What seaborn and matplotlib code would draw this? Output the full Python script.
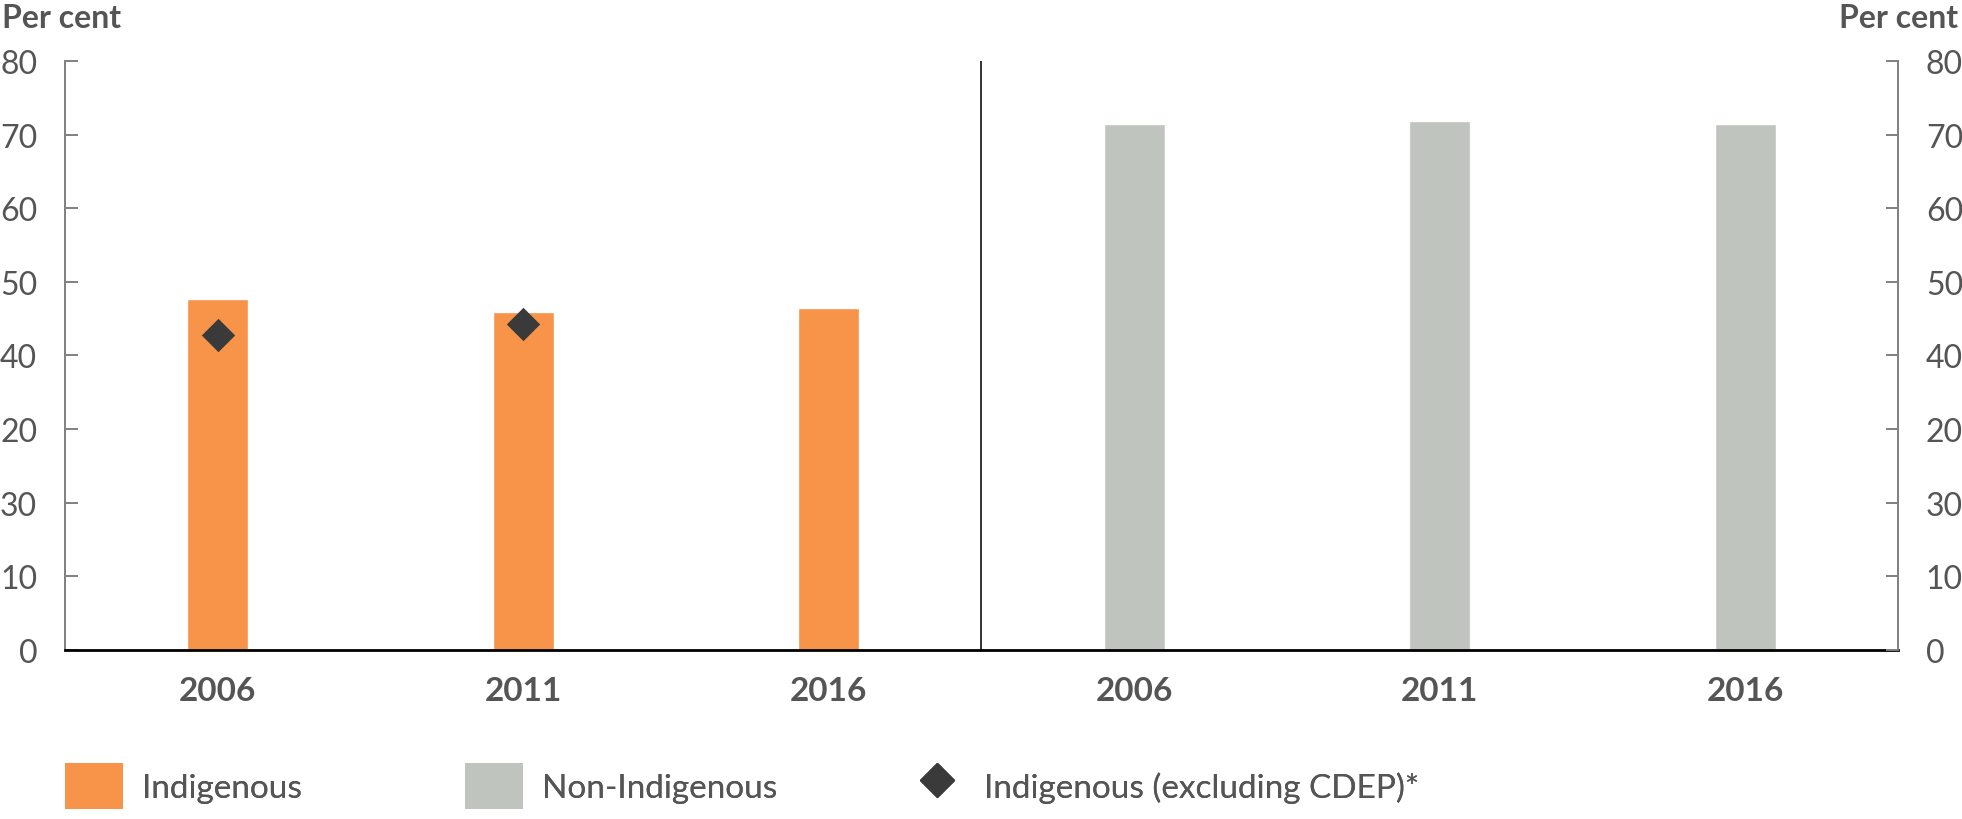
import pandas as pd
import matplotlib
matplotlib.use("Agg")
import matplotlib.pyplot as plt
import seaborn as sns
from matplotlib.patches import Patch
from matplotlib.lines import Line2D

# data
groups = ["Indigenous", "Non-Indigenous"]
years = ["2006", "2011", "2016"]
indigenous = [47.7, 45.9, 46.4]
non_indigenous = [71.4, 71.9, 71.4]
excl_cdep = [42.8, 44.3, None]
ytick_vals = [0, 10, 20, 30, 40, 50, 60, 70, 80]
ytick_text = ["0", "10", "30", "20", "40", "50", "60", "70", "80"]

orange = "#F7944A"
grey = "#BFC5BE"
dark = "#3A3A3A"
text_col = "#555555"

sns.set_style("white")
plt.rcParams["font.family"] = ["Lato", "DejaVu Sans"]
plt.rcParams["font.size"] = 23

keys = [f"{g} {y}" for g in groups for y in years]
df = pd.DataFrame({
    "key": keys,
    "group": [g for g in groups for _ in years],
    "value": indigenous + non_indigenous,
})
pts = pd.DataFrame({"key": keys[:3], "value": excl_cdep}).dropna()

fig = plt.figure(figsize=(19.62, 8.2), dpi=100)
ax = fig.add_axes([0.0331, 0.2061, 0.9343, 0.7183])

sns.barplot(data=df, x="key", y="value", hue="group", order=keys,
            palette={"Indigenous": orange, "Non-Indigenous": grey},
            dodge=False, width=0.2, saturation=1, legend=False, ax=ax)
sns.stripplot(data=pts, x="key", y="value", order=keys, jitter=False,
              marker="D", s=17, color=dark, linewidth=0, ax=ax, zorder=5)

ax.set_xlim(-0.5, 5.5)
ax.set_ylim(0, 80)
ax.axvline(2.5, color="#333333", lw=1.4)

# y axis left
ax.set_yticks(ytick_vals)
ax.set_yticklabels(ytick_text)
ax.tick_params(axis="y", direction="in", length=9, width=1.4, color="#808080",
               pad=20, labelsize=23, labelcolor=text_col)
# x axis
ax.set_xticks(range(6))
ax.set_xticklabels(years * 2, fontweight="bold", color=text_col, fontsize=24)
ax.tick_params(axis="x", length=0, pad=19)
ax.set_xticks([0.5, 1.5, 2.5, 3.5, 4.5], minor=True)
ax.tick_params(axis="x", which="minor", direction="in", length=8.5, width=1.2,
               color="#444444")
ax.set_xlabel("")
ax.set_ylabel("")

for s in ["top", "right"]:
    ax.spines[s].set_visible(False)
ax.spines["left"].set_color("#808080")
ax.spines["left"].set_linewidth(1.4)
ax.spines["bottom"].set_color("black")
ax.spines["bottom"].set_linewidth(2)

# right axis
ax2 = ax.twinx()
ax2.set_ylim(0, 80)
ax2.set_yticks(ytick_vals)
ax2.set_yticklabels(ytick_text)
ax2.tick_params(axis="y", direction="in", length=9, width=1.4, color="#808080",
                pad=20, labelsize=23, labelcolor=text_col)
for s in ["top", "left", "bottom"]:
    ax2.spines[s].set_visible(False)
ax2.spines["right"].set_color("#808080")
ax2.spines["right"].set_linewidth(1.4)

fig.text(0.001, 0.977, "Per cent", ha="left", va="center", fontsize=23,
         fontweight="bold", color=text_col)
fig.text(0.998, 0.977, "Per cent", ha="right", va="center", fontsize=23,
         fontweight="bold", color=text_col)

# legend: one entry per legend so each can sit where the reference has it
handles = [
    Patch(facecolor=orange, edgecolor="none"),
    Patch(facecolor=grey, edgecolor="none"),
    Line2D([0], [0], marker="D", color=dark, linestyle="none", markersize=17),
]
labels = ["Indigenous", "Non-Indigenous", "Indigenous (excluding CDEP)*"]
anchors = [0.0331, 0.237, 0.4625]
for h, lab, x0 in zip(handles, labels, anchors):
    leg = fig.legend([h], [lab], loc="center left",
                     bbox_to_anchor=(x0, 0.04), frameon=False,
                     handlelength=1.75, handleheight=1.75, handletextpad=0.55,
                     fontsize=24, borderaxespad=0, borderpad=0)
    for t in leg.get_texts():
        t.set_color(text_col)
    fig.add_artist(leg)

fig.savefig("out.png", dpi=100)
